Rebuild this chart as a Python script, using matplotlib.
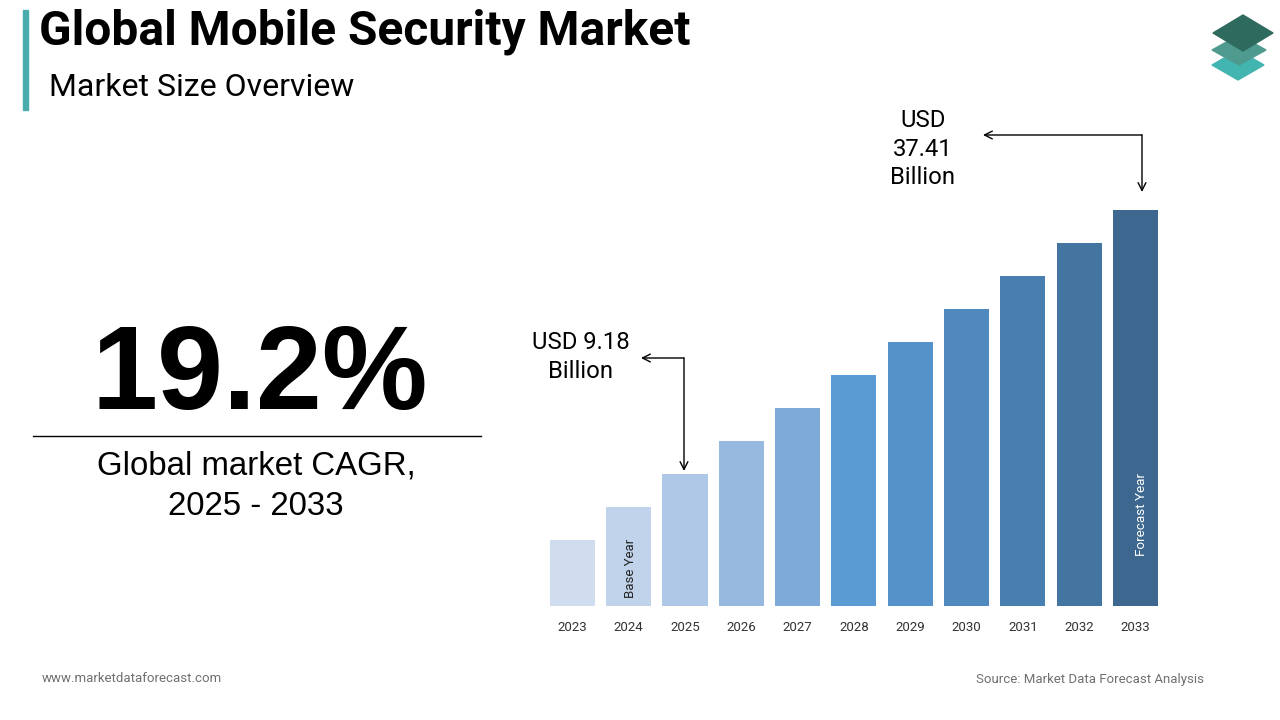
import matplotlib
matplotlib.use("Agg")
import matplotlib.pyplot as plt
from matplotlib.patches import Polygon, Rectangle
from matplotlib.lines import Line2D

# data
years = ["2023", "2024", "2025", "2026", "2027", "2028",
         "2029", "2030", "2031", "2032", "2033"]
# bar heights as drawn (relative units, the chart has no value axis)
heights = [2, 3, 4, 5, 6, 7, 8, 9, 10, 11, 12]
bar_colors = ["#d0ddee", "#c0d3ea", "#afc7e6", "#98b9df", "#7eaad9", "#5b9bd4",
              "#5592c9", "#4f89bd", "#497fb0", "#4474a0", "#3d678e"]
start_label = "USD 9.18\nBillion"
end_label = "USD\n37.41\nBillion"
cagr = "19.2%"
cagr_text = "Global market CAGR,\n2025 - 2033"
title = "Global Mobile Security Market"
subtitle = "Market Size Overview"

W, H = 1280, 720


def px(x, y):
    # pixel position measured from top-left -> figure fraction
    return (x / W, 1 - y / H)


fig = plt.figure(figsize=(12.8, 7.2), dpi=100)
fig.patch.set_facecolor("white")

# bar chart
left, right = 544.2, 1163.7
top, base = 210, 606
ax = fig.add_axes([left / W, 1 - base / H, (right - left) / W, (base - top) / H])
xs = list(range(len(years)))
ax.bar(xs, heights, width=0.8, color=bar_colors)
ax.set_xlim(-0.5, len(years) - 0.5)
ax.set_ylim(0, max(heights))
for s in ax.spines.values():
    s.set_visible(False)
ax.set_yticks([])
ax.set_xticks(xs)
ax.set_xticklabels(years, fontsize=9.5, color="#333333", family="Roboto")
ax.tick_params(axis="x", length=0, pad=10.5)

ax.text(1.04, 0.25, "Base Year", rotation=90, ha="center", va="bottom",
        fontsize=9.5, color="#222222", family="Roboto")
ax.text(10.1, 1.5, "Forecast Year", rotation=90, ha="center", va="bottom",
        fontsize=9.7, color="white", family="Roboto")

# annotations
arrow = dict(arrowstyle="->", lw=1, color="black", shrinkA=0, shrinkB=0,
             mutation_scale=14)
fig.text(*px(581, 357), start_label, ha="center", va="center", fontsize=17.2,
         family="Roboto", linespacing=1.3)
ax.annotate("", xy=px(641, 358), xycoords="figure fraction",
            xytext=px(684, 358), textcoords="figure fraction", arrowprops=arrow)
ax.annotate("", xy=px(684, 471), xycoords="figure fraction",
            xytext=px(684, 358), textcoords="figure fraction", arrowprops=arrow)

fig.text(*px(923, 149), end_label, ha="center", va="center", fontsize=17.2,
         family="Roboto", linespacing=1.3)
ax.annotate("", xy=px(983, 135), xycoords="figure fraction",
            xytext=px(1142, 135), textcoords="figure fraction", arrowprops=arrow)
ax.annotate("", xy=px(1142, 192), xycoords="figure fraction",
            xytext=px(1142, 135), textcoords="figure fraction", arrowprops=arrow)

# left panel
fig.text(*px(260, 378), cagr, ha="center", va="center", fontsize=85.5,
         fontweight="bold", family="Liberation Sans")
fig.add_artist(Line2D([33 / W, 481 / W], [1 - 436 / H, 1 - 436 / H],
                      color="black", lw=1))
fig.text(*px(256, 486), cagr_text, ha="center", va="center", fontsize=23.8,
         family="Liberation Sans", linespacing=1.38)

# header
fig.add_artist(Rectangle(px(23, 110), 5 / W, 100 / H, color="#4aacac",
                         transform=fig.transFigure))
fig.text(*px(39, 32), title, ha="left", va="center", fontsize=34.5,
         fontweight="bold", family="Roboto")
fig.text(*px(49, 88), subtitle, ha="left", va="center", fontsize=23,
         family="Roboto")

# logo: three stacked diamonds (bottom first)
logo = [((1238, 65, 26, 15), "#43b5b0"),
        ((1239, 50, 27, 15), "#4f9a8e"),
        ((1243, 33, 30, 18), "#2f6a5f")]
for (cx, cy, hw, hh), c in logo:
    pts = [px(cx - hw, cy), px(cx, cy - hh), px(cx + hw, cy), px(cx, cy + hh)]
    fig.add_artist(Polygon(pts, closed=True, color=c, transform=fig.transFigure))

# footer
fig.text(*px(42, 679), "www.marketdataforecast.com", ha="left", va="center",
         fontsize=9.5, color="#707070", family="Roboto")
fig.text(*px(1204, 679), "Source: Market Data Forecast Analysis", ha="right",
         va="center", fontsize=9.5, color="#707070", family="Roboto")

fig.savefig("out.png", dpi=100)
